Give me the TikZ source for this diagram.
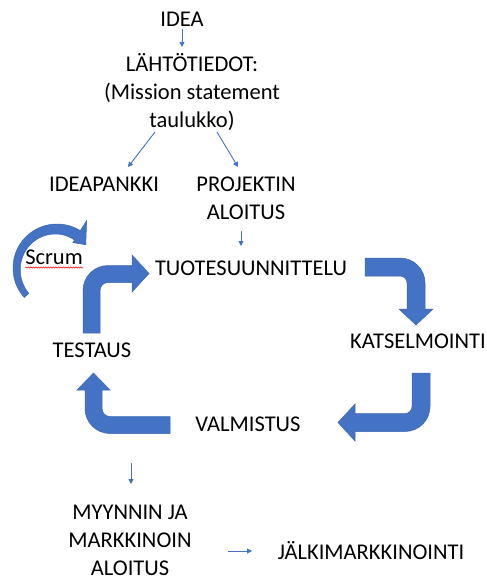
\documentclass[tikz,border=0pt]{standalone}
\usepackage{fontspec}
\setmainfont{Carlito}
\usetikzlibrary{arrows.meta,decorations.pathmorphing}
\definecolor{pblue}{HTML}{4472C4}
\definecolor{pedge}{HTML}{3E67B1}
\begin{document}
\begin{tikzpicture}[x=1pt,y=-1pt,
  lbl/.style={font={\fontsize{22.5}{28}\selectfont}, inner sep=0pt, align=center, anchor=base},
  conn/.style={draw=pblue, line width=0.9pt, -{Triangle[length=5pt,width=5pt]}},
  bendarrow/.style={fill=pblue, draw=pedge, line width=0.5pt}]
\useasboundingbox (0,0) rectangle (487,581);
\fill[white] (0,0) rectangle (487,581);

% texts (multi-line nodes are placed by the baseline of their last line)
\node[lbl] (idea) at (182,26) {IDEA};
\node[lbl] (lahto) at (192,127) {LÄHTÖTIEDOT:\\(Mission statement\\taulukko)};
\node[lbl] (pankki) at (104,191) {IDEAPANKKI};
\node[lbl] (projekti) at (246,219) {PROJEKTIN\\ALOITUS};
\node[lbl] (tuote) at (251,275) {TUOTESUUNNITTELU};
\node[lbl] (katsel) at (418,348) {KATSELMOINTI};
\node[lbl] (testaus) at (92,357) {TESTAUS};
\node[lbl] (valm) at (248,431) {VALMISTUS};
\node[lbl] (myynti) at (130,575) {MYYNNIN JA\\MARKKINOIN\\ALOITUS};
\node[lbl] (jalki) at (371,559) {JÄLKIMARKKINOINTI};

% thin connectors
\coordinate (a1) at (182,29);  \coordinate (b1) at (182,47);
\coordinate (a2) at (155,132); \coordinate (b2) at (128,167);
\coordinate (a3) at (217,132); \coordinate (b3) at (238,167);
\coordinate (a4) at (241,231); \coordinate (b4) at (241,246);
\coordinate (a5) at (131,463); \coordinate (b5) at (131,484);
\coordinate (a6) at (228,551); \coordinate (b6) at (252,551);
\draw[conn] (a1) -- (b1);
\draw[conn] (a2) -- (b2);
\draw[conn] (a3) -- (b3);
\draw[conn] (a4) -- (b4);
\draw[conn] (a5) -- (b5);
\draw[conn] (a6) -- (b6);

% bent block arrows
% TESTAUS -> TUOTESUUNNITTELU
\path[bendarrow] (83,333) -- (83,290.5) .. controls (83,276.7) and (94.2,265.5) .. (108,265.5)
  -- (132,265.5) -- (132,255) -- (149,273.5) -- (132,292) -- (132,282.5) -- (108,282.5)
  .. controls (103.6,282.5) and (100,286.1) .. (100,290.5) -- (100,333) -- cycle;
% TUOTESUUNNITTELU -> KATSELMOINTI
\path[bendarrow] (365,258) -- (400,258) .. controls (413.8,258) and (425,269.2) .. (425,283)
  -- (425,309) -- (433,309) -- (416,325) -- (399,309) -- (407,309) -- (407,283)
  .. controls (407,279.1) and (403.9,276) .. (400,276) -- (365,276) -- cycle;
% KATSELMOINTI -> VALMISTUS
\path[bendarrow] (412,373) -- (430,373) -- (430,406.5) .. controls (430,420.3) and (418.8,431.5) .. (405,431.5)
  -- (355,431.5) -- (355,441) -- (338,422.5) -- (355,404) -- (355,413.5) -- (405,413.5)
  .. controls (408.9,413.5) and (412,410.4) .. (412,406.5) -- cycle;
% VALMISTUS -> TESTAUS
\path[bendarrow] (170,416.5) -- (110,416.5) .. controls (105.6,416.5) and (102,412.9) .. (102,408.5)
  -- (102,390) -- (110,390) -- (93.5,373) -- (77,390) -- (85,390) -- (85,408.5)
  .. controls (85,422.3) and (96.2,433.5) .. (110,433.5) -- (170,433.5) -- cycle;

% Scrum circular arrow
\path[bendarrow] plot[domain=222:58, samples=40] ({57+44*cos(\x)},{268-44*sin(\x)})
  -- ({57+56*cos(58)},{268-56*sin(58)}) -- ({57+37*cos(39)},{268-37*sin(39)})
  -- ({57+30*cos(58)},{268-30*sin(58)})
  -- plot[domain=58:222, samples=40] ({57+(33+5*(\x-58)/164)*cos(\x)},{268-(33+5*(\x-58)/164)*sin(\x)})
  -- cycle;
\node[lbl] (scrum) at (54,264) {Scrum};
\draw[red, line width=0.5pt, decorate, decoration={snake, amplitude=0.7pt, segment length=2.5pt}]
  (scrum.base west) ++(0,3.5) -- ([yshift=-3.5pt]scrum.base east);
\end{tikzpicture}
\end{document}
